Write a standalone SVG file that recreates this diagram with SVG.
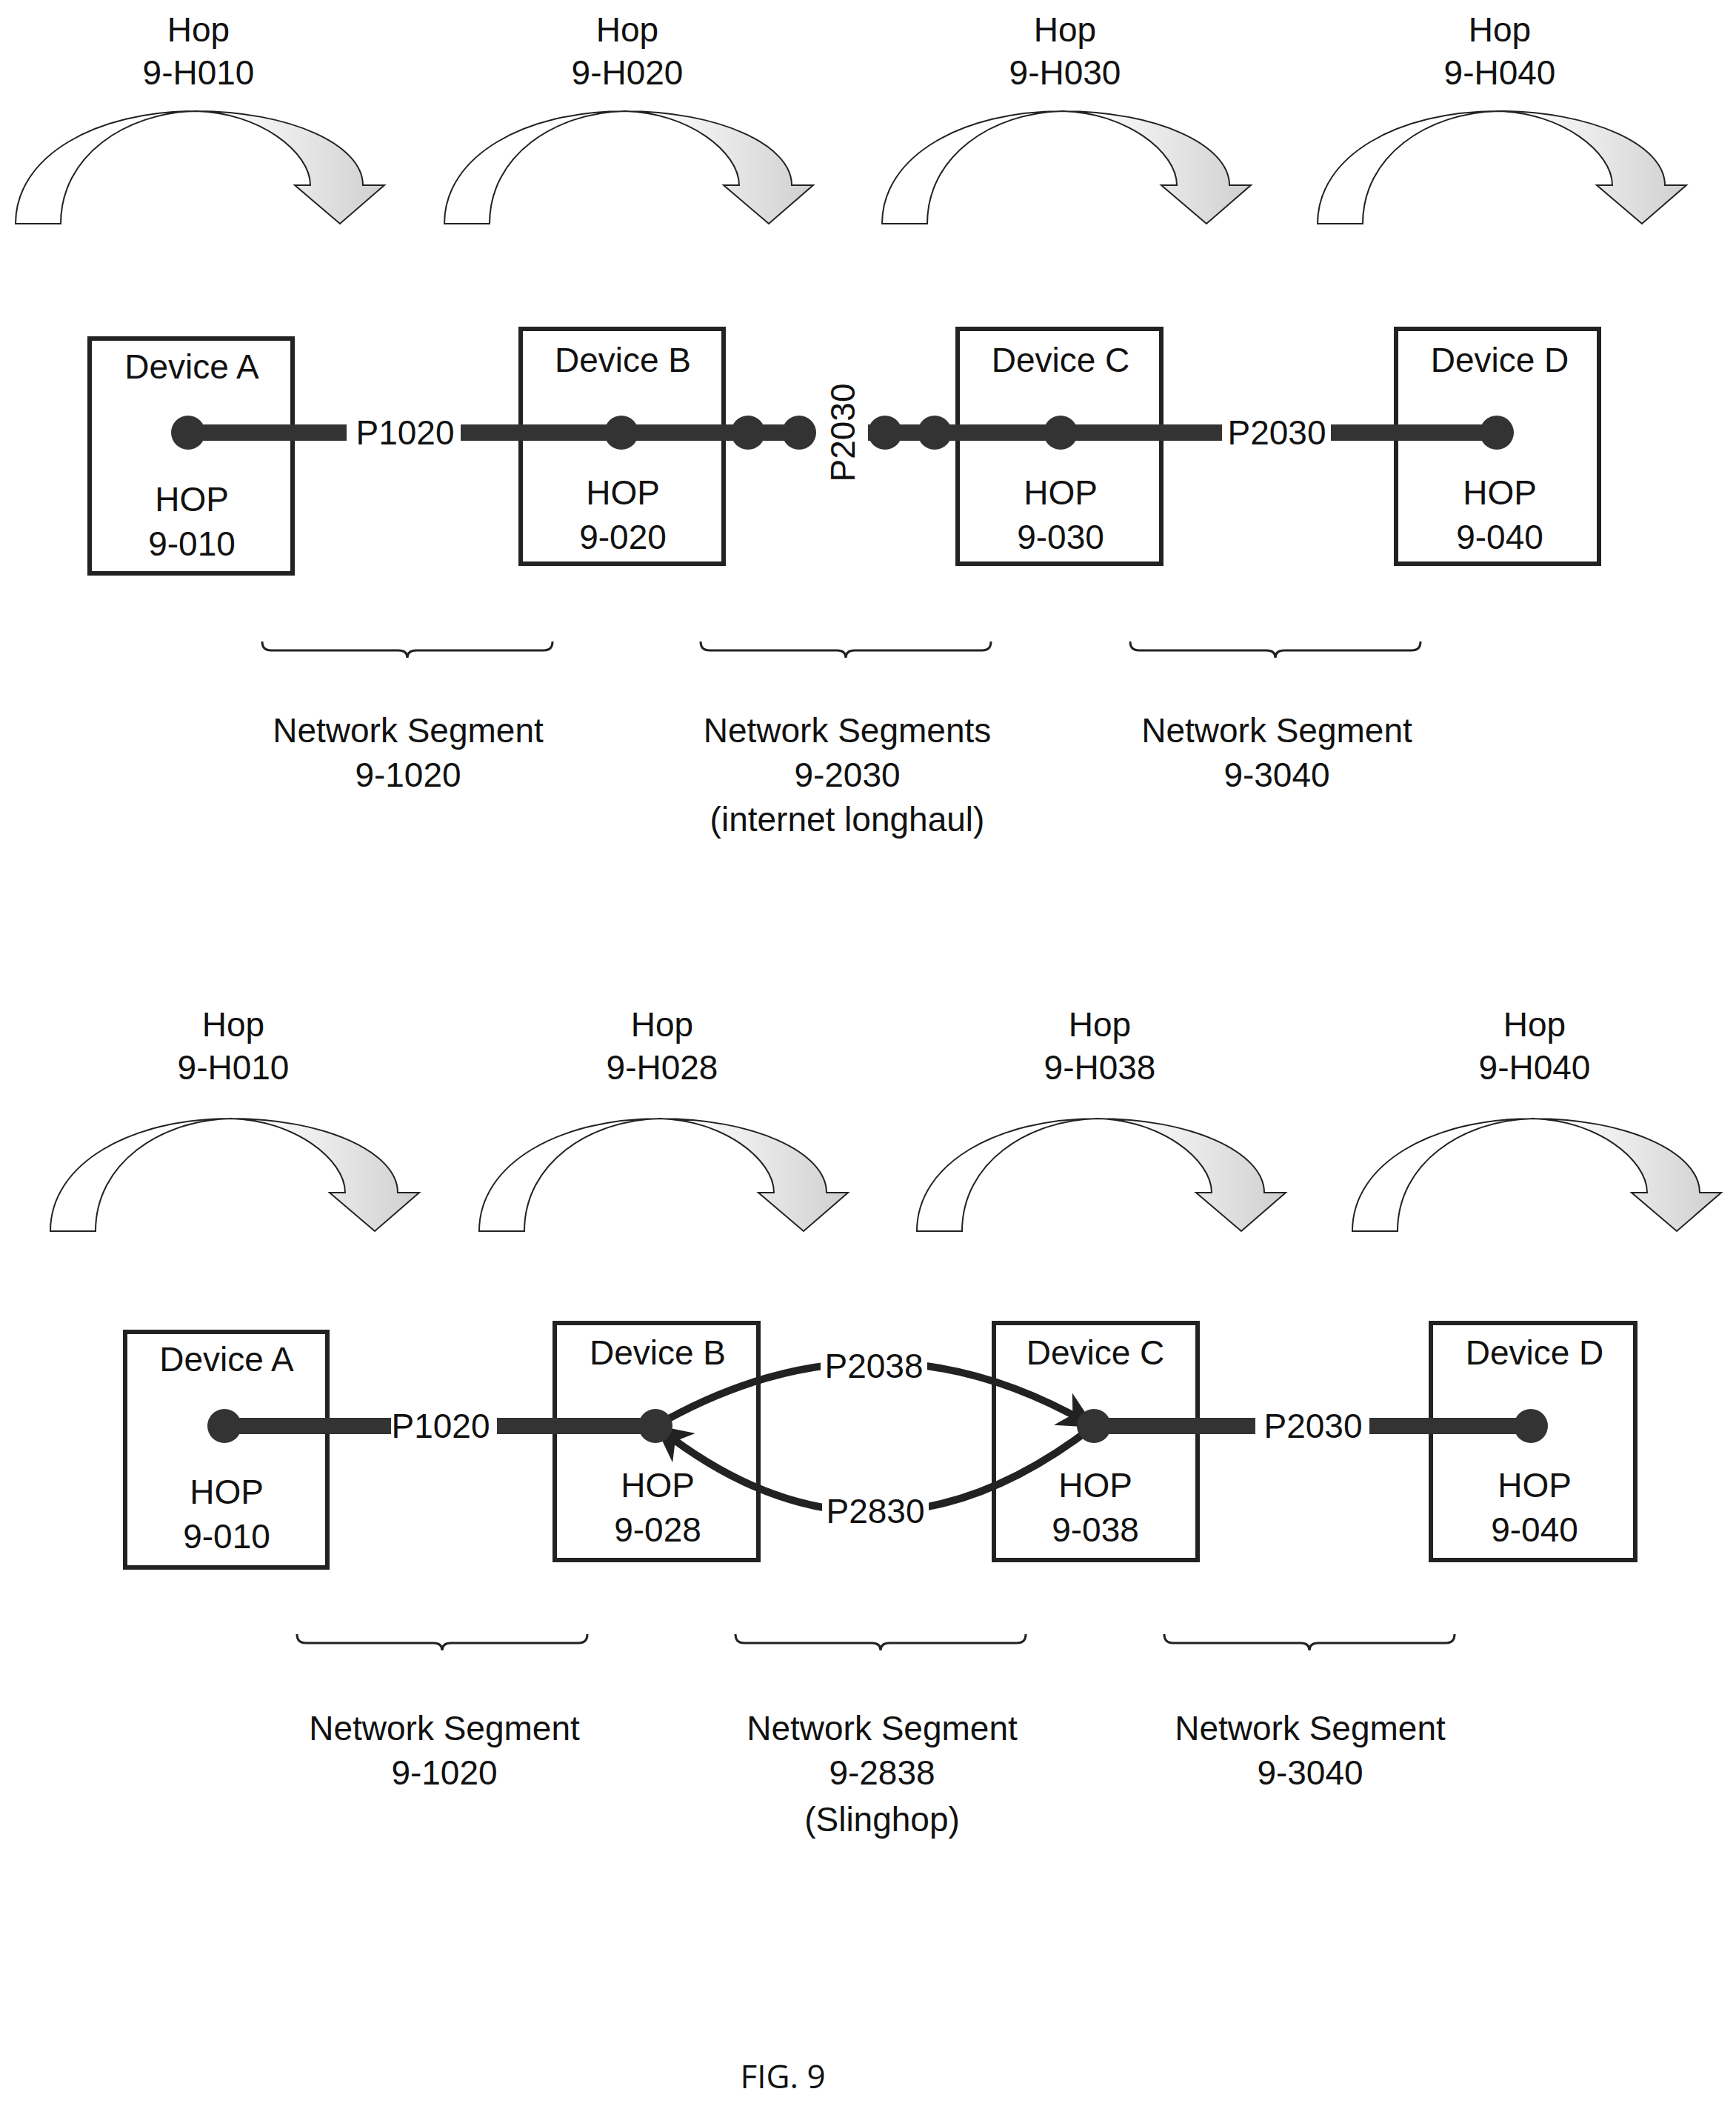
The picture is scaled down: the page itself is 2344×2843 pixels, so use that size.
<svg xmlns="http://www.w3.org/2000/svg" width="2344" height="2843" viewBox="0 0 2344 2843">
<style>
text{font-family:"Liberation Sans",Arial,sans-serif;font-size:46px;fill:#111;text-anchor:middle}
.box{fill:#fff;stroke:#222;stroke-width:6}
.wire{stroke:#333;stroke-width:22;fill:none}
.dot{fill:#333}
.arc{stroke:#222;stroke-width:10;fill:none}
.hop{fill:url(#g);stroke:#222;stroke-width:2}
.brace{fill:none;stroke:#222;stroke-width:3}
.lbl{fill:#fff}
</style>
<defs>
<linearGradient id="g" x1="0" y1="0" x2="1" y2="0">
<stop offset="0.55" stop-color="#fff"/><stop offset="1" stop-color="#cfcfcf"/>
</linearGradient>
<path id="harrow" d="M21,302 C21,210 130,150 265,150 C390,150 490,195 490,250 L519,250 L459,302 L398,250 L419,250 C419,205 350,152 265,150 C170,152 82,210 82,302 Z"/>
<path id="brace" d="M0,0 Q0,12 12,12 L184,12 Q196,12 196,22 Q196,12 208,12 L380,12 Q392,12 392,0"/>
<marker id="ah" viewBox="0 0 10 10" refX="8" refY="5" markerWidth="5" markerHeight="5" orient="auto" markerUnits="strokeWidth"><path d="M0,0 L10,5 L0,10 L3,5 Z" fill="#222"/></marker>
</defs>

<g id="top-hops">
<use href="#harrow" class="hop" x="0" y="0"/>
<use href="#harrow" class="hop" x="579" y="0"/>
<use href="#harrow" class="hop" x="1170" y="0"/>
<use href="#harrow" class="hop" x="1758" y="0"/>
<text x="268" y="56">Hop</text><text x="268" y="114">9-H010</text>
<text x="847" y="56">Hop</text><text x="847" y="114">9-H020</text>
<text x="1438" y="56">Hop</text><text x="1438" y="114">9-H030</text>
<text x="2025" y="56">Hop</text><text x="2025" y="114">9-H040</text>
</g>

<g id="top-devA"><rect class="box" x="121" y="457" width="274" height="317"/></g>
<g id="top-devB"><rect class="box" x="703" y="444" width="274" height="317"/></g>
<g id="top-devC"><rect class="box" x="1293" y="444" width="275" height="317"/></g>
<g id="top-devD"><rect class="box" x="1885" y="444" width="274" height="317"/></g>

<g id="top-connectors">
<line class="wire" x1="254" y1="584" x2="468" y2="584"/>
<line class="wire" x1="622" y1="584" x2="1097" y2="584"/>
<line class="wire" x1="1172" y1="584" x2="1650" y2="584"/>
<line class="wire" x1="1797" y1="584" x2="2021" y2="584"/>
<circle class="dot" cx="254" cy="584" r="23"/>
<circle class="dot" cx="839" cy="584" r="23"/>
<circle class="dot" cx="1010" cy="584" r="23"/>
<circle class="dot" cx="1079" cy="584" r="23"/>
<circle class="dot" cx="1195" cy="584" r="23"/>
<circle class="dot" cx="1262" cy="584" r="23"/>
<circle class="dot" cx="1432" cy="584" r="23"/>
<circle class="dot" cx="2021" cy="584" r="23"/>
<text x="547" y="600">P1020</text>
<text x="1724" y="600">P2030</text>
<text transform="translate(1154,584) rotate(-90)" x="0" y="0">P2030</text>
</g>

<g id="top-labels">
<text x="259" y="511">Device A</text><text x="259" y="690">HOP</text><text x="259" y="750">9-010</text>
<text x="841" y="502">Device B</text><text x="841" y="681">HOP</text><text x="841" y="741">9-020</text>
<text x="1432" y="502">Device C</text><text x="1432" y="681">HOP</text><text x="1432" y="741">9-030</text>
<text x="2025" y="502">Device D</text><text x="2025" y="681">HOP</text><text x="2025" y="741">9-040</text>
</g>

<g id="top-segments">
<use href="#brace" class="brace" x="354" y="866"/>
<use href="#brace" class="brace" x="946" y="866"/>
<use href="#brace" class="brace" x="1526" y="866"/>
<text x="551" y="1002">Network Segment</text><text x="551" y="1062">9-1020</text>
<text x="1144" y="1002">Network Segments</text><text x="1144" y="1062">9-2030</text><text x="1144" y="1122">(internet longhaul)</text>
<text x="1724" y="1002">Network Segment</text><text x="1724" y="1062">9-3040</text>
</g>

<g id="bottom-hops">
<use href="#harrow" class="hop" x="47" y="1360"/>
<use href="#harrow" class="hop" x="626" y="1360"/>
<use href="#harrow" class="hop" x="1217" y="1360"/>
<use href="#harrow" class="hop" x="1805" y="1360"/>
<text x="315" y="1399">Hop</text><text x="315" y="1457">9-H010</text>
<text x="894" y="1399">Hop</text><text x="894" y="1457">9-H028</text>
<text x="1485" y="1399">Hop</text><text x="1485" y="1457">9-H038</text>
<text x="2072" y="1399">Hop</text><text x="2072" y="1457">9-H040</text>
</g>

<g id="bot-devA"><rect class="box" x="169" y="1798" width="273" height="318"/></g>
<g id="bot-devB"><rect class="box" x="749" y="1786" width="275" height="320"/></g>
<g id="bot-devC"><rect class="box" x="1342" y="1786" width="275" height="320"/></g>
<g id="bot-devD"><rect class="box" x="1932" y="1786" width="276" height="320"/></g>

<g id="bottom-connectors">
<line class="wire" x1="303" y1="1925" x2="528" y2="1925"/>
<line class="wire" x1="671" y1="1925" x2="885" y2="1925"/>
<line class="wire" x1="1477" y1="1925" x2="1695" y2="1925"/>
<line class="wire" x1="1849" y1="1925" x2="2067" y2="1925"/>
<path class="arc" d="M885,1925 Q1180,1755 1470,1922" marker-end="url(#ah)"/>
<path class="arc" d="M1477,1925 Q1180,2155 892,1930" marker-end="url(#ah)"/>
<circle class="dot" cx="303" cy="1925" r="23"/>
<circle class="dot" cx="885" cy="1925" r="23"/>
<circle class="dot" cx="1477" cy="1925" r="23"/>
<circle class="dot" cx="2067" cy="1925" r="23"/>
<rect class="lbl" x="1108" y="1822" width="144" height="44"/>
<rect class="lbl" x="1110" y="2018" width="144" height="44"/>
<text x="595" y="1941">P1020</text>
<text x="1773" y="1941">P2030</text>
<text x="1180" y="1860">P2038</text>
<text x="1182" y="2056">P2830</text>
</g>

<g id="bottom-labels">
<text x="306" y="1851">Device A</text><text x="306" y="2030">HOP</text><text x="306" y="2090">9-010</text>
<text x="888" y="1842">Device B</text><text x="888" y="2021">HOP</text><text x="888" y="2081">9-028</text>
<text x="1479" y="1842">Device C</text><text x="1479" y="2021">HOP</text><text x="1479" y="2081">9-038</text>
<text x="2072" y="1842">Device D</text><text x="2072" y="2021">HOP</text><text x="2072" y="2081">9-040</text>
</g>

<g id="bottom-segments">
<use href="#brace" class="brace" x="401" y="2206"/>
<use href="#brace" class="brace" x="993" y="2206"/>
<use href="#brace" class="brace" x="1572" y="2206"/>
<text x="600" y="2349">Network Segment</text><text x="600" y="2409">9-1020</text>
<text x="1191" y="2349">Network Segment</text><text x="1191" y="2409">9-2838</text><text x="1191" y="2472">(Slinghop)</text>
<text x="1769" y="2349">Network Segment</text><text x="1769" y="2409">9-3040</text>
</g>

<text x="1057" y="2819" style="font-family:'Open Sans','Noto Sans',sans-serif;font-size:44px">FIG. 9</text>
</svg>
